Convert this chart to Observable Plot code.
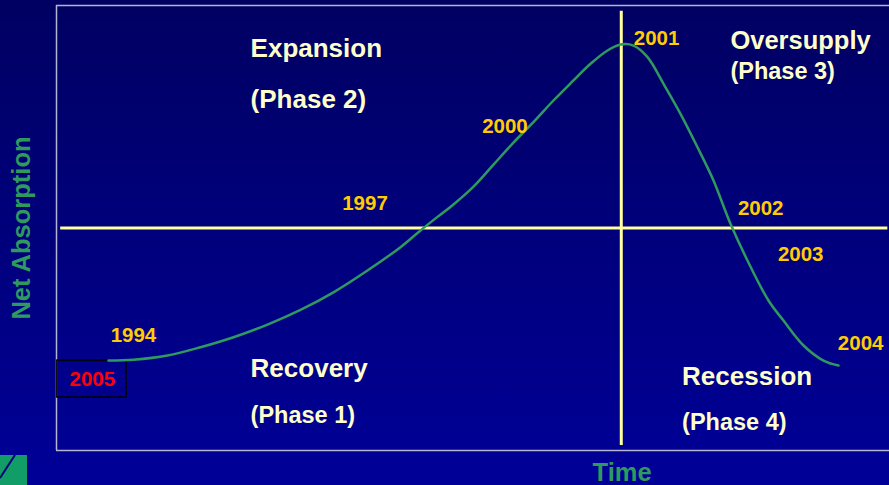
<!DOCTYPE html>
<html>
<head>
<meta charset="utf-8">
<script src="https://cdn.jsdelivr.net/npm/d3@7"></script>
<script src="https://cdn.jsdelivr.net/npm/@observablehq/plot@0.6"></script>
<style>
  html, body { margin: 0; padding: 0; }
  body {
    width: 889px; height: 485px; overflow: hidden; position: relative;
    background: linear-gradient(#000062, #000098);
    font-family: "Liberation Sans", Arial, sans-serif;
  }
  #logo { position: absolute; left: 0; top: 455px; width: 27px; height: 30px; }
</style>
</head>
<body>
<div id="chart"></div>
<svg id="logo" width="27" height="30"><rect width="27" height="30" fill="#129c68"/><line x1="15" y1="0" x2="0" y2="23" stroke="#00007a" stroke-width="2"/></svg>
<script>
// Market cycle curve: time index (0-100) vs net absorption (-100..100)
const curveTime = [6.24, 9.24, 13.33, 17.29, 21.25, 25.33, 29.29, 33.25, 37.33, 41.30, 43.70, 45.74, 47.66, 50.06, 52.46, 54.86, 57.26, 59.66, 62.06, 64.11, 66.15, 67.71, 69.27, 70.95, 72.87, 74.91, 76.95, 78.87, 80.91, 82.95, 85.47, 87.27, 89.68, 92.08, 93.88];
const curveAbsorption = [-59.6, -59.2, -57.3, -53.6, -49.1, -43.4, -36.8, -28.9, -19.1, -8.6, -1.1, 5.0, 10.6, 18.6, 28.5, 38.4, 47.6, 57.3, 66.3, 73.8, 79.8, 82.5, 82.0, 76.8, 64.8, 51.3, 36.3, 21.4, 1.9, -14.6, -32.6, -41.6, -52.8, -59.6, -61.8];

// Year annotations
const yearLabels = ["1994", "1997", "2000", "2001", "2002", "2003", "2004"];
const yearTime = [6.5, 34.3, 51.1, 69.3, 81.8, 86.6, 93.8];
const yearAbsorption = [-48.3, 11.2, 45.8, 85.4, 9.0, -12.1, -51.7];

// Phase annotations
const phaseLabels = ["Expansion", "(Phase 2)", "Oversupply", "(Phase 3)", "Recovery", "(Phase 1)", "Recession", "(Phase 4)"];
const phaseTime = [23.3, 23.3, 80.9, 80.9, 23.3, 23.3, 75.1, 75.1];
const phaseAbsorption = [80.7, 57.8, 84.3, 70.3, -63.4, -84.3, -66.7, -87.4];
const phaseSize = [26, 26, 25.5, 23.5, 26, 23.5, 26, 23.5];

// Quadrant axes (time of peak, zero absorption)
const peakTime = 67.8;
const zeroAbsorption = 0;

// Highlighted current year
const currentYear = "2005";
const currentTime = 4.3;
const currentAbsorption = -68.1;

const curve = curveTime.map((t, i) => ({t, a: curveAbsorption[i]}));
const years = yearLabels.map((label, i) => ({label, t: yearTime[i], a: yearAbsorption[i]}));
const phases = phaseLabels.map((label, i) => ({label, t: phaseTime[i], a: phaseAbsorption[i], size: phaseSize[i]}));

const font = "'Liberation Sans', Arial, sans-serif";
const chart = Plot.plot({
  width: 889,
  height: 485,
  marginLeft: 56,
  marginRight: 0,
  marginTop: 5,
  marginBottom: 35,
  x: {domain: [0, 100], axis: null},
  y: {domain: [-100, 100], axis: null},
  style: {background: "transparent", overflow: "visible", fontFamily: font},
  marks: [
    // frame (top, bottom, left)
    Plot.ruleY([100, -100], {x1: 0, x2: 101, stroke: "#b4b4d2", strokeWidth: 1.5}),
    Plot.ruleX([0], {y1: -100, y2: 100, stroke: "#b4b4d2", strokeWidth: 1.5}),
    // quadrant lines
    Plot.ruleY([zeroAbsorption], {x1: 0.5, x2: 99.8, stroke: "#ffffa0", strokeWidth: 3}),
    Plot.ruleX([peakTime], {y1: -97.8, y2: 97.4, stroke: "#ffffa0", strokeWidth: 3}),
    // 2005 box
    Plot.rect([{x1: 0.1, x2: 8.4, y1: -76.2, y2: -59.6}], {x1: "x1", x2: "x2", y1: "y1", y2: "y2", fill: "none", stroke: "#000000", strokeWidth: 1.5}),
    // cycle curve
    Plot.line(curve, {x: "t", y: "a", stroke: "#2f9a5e", strokeWidth: 2.5, curve: "catmull-rom"}),
    // year labels
    Plot.text(years, {x: "t", y: "a", text: "label", textAnchor: "start", fill: "#ffcc00", fontSize: 20.5, fontWeight: "bold"}),
    Plot.text([currentYear], {x: currentTime, y: currentAbsorption, text: d => d, textAnchor: "middle", fill: "#ff0000", fontSize: 20.5, fontWeight: "bold"}),
    // phase labels
    Plot.text(phases, {x: "t", y: "a", text: "label", textAnchor: "start", fill: "#ffffcc", fontSize: "size", fontWeight: "bold"}),
    // axis titles
    Plot.text(["Net Absorption"], {x: -4.2, y: 0, text: d => d, rotate: -90, fill: "#2f9a5e", fontSize: 25.5, fontWeight: "bold"}),
    Plot.text(["Time"], {x: 67.9, y: -109.9, text: d => d, fill: "#2f9a5e", fontSize: 25.5, fontWeight: "bold"})
  ]
});
document.getElementById("chart").appendChild(chart);
</script>
</body>
</html>
